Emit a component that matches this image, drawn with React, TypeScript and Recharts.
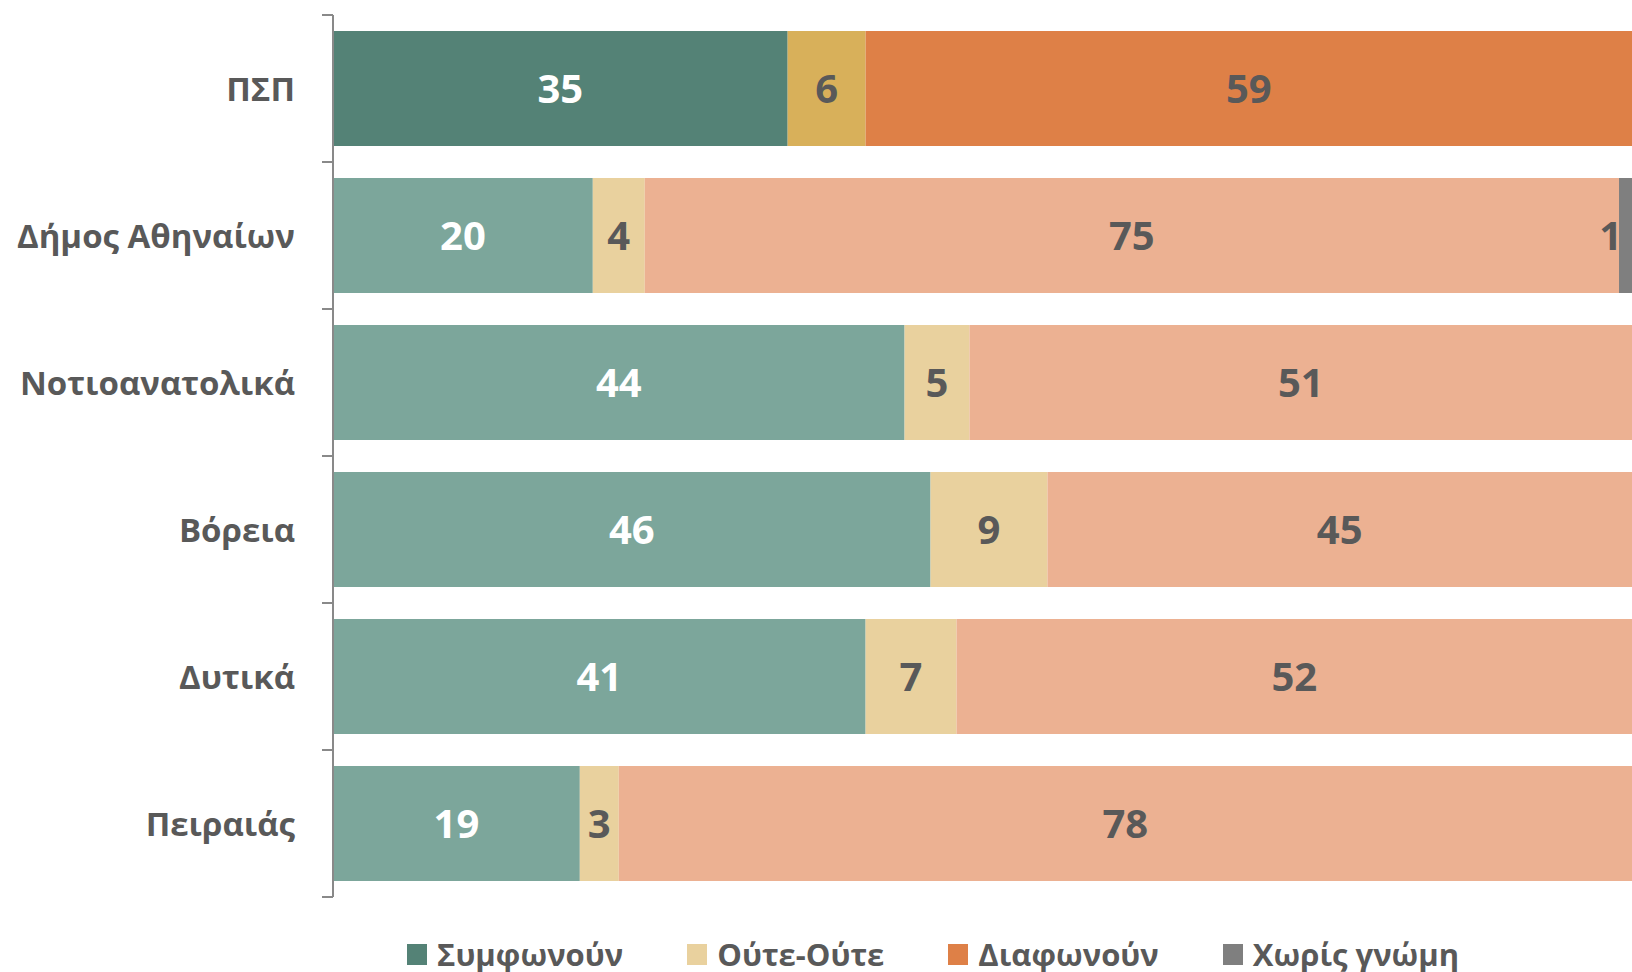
import React from 'react';
import { Bar, BarChart, Cell, LabelList, XAxis, YAxis } from 'recharts';

const categories = ['ΠΣΠ', 'Δήμος Αθηναίων', 'Νοτιοανατολικά', 'Βόρεια', 'Δυτικά', 'Πειραιάς'];
const agree = [35, 20, 44, 46, 41, 19];
const neither = [6, 4, 5, 9, 7, 3];
const disagree = [59, 75, 51, 45, 52, 78];
const noOpinion = [0, 1, 0, 0, 0, 0];

const legendLabels = ['Συμφωνούν', 'Ούτε-Ούτε', 'Διαφωνούν', 'Χωρίς γνώμη'];
const legendColors = ['#548276', '#E9D19E', '#DE8047', '#7F7F7F'];

// first row (ΠΣΠ) uses the stronger shades
const darkColors = { agree: '#548276', neither: '#D8B05A', disagree: '#DE8047', none: '#7F7F7F' };
const lightColors = { agree: '#7CA69B', neither: '#E9D19E', disagree: '#ECB192', none: '#7F7F7F' };

const data = categories.map((name, i) => ({
  name,
  agree: agree[i],
  neither: neither[i],
  disagree: disagree[i],
  none: noOpinion[i],
}));

const FONT = '"Open Sans", sans-serif';
const TEXT = '#595959';
const WIDTH = 1632;
const HEIGHT = 972;
const TOP = 15;
const BOTTOM = 75;
const AXIS_X = 333;
const BAND = (HEIGHT - TOP - BOTTOM) / categories.length;

const CategoryTick = (props: any) => {
  const { y, payload, index } = props;
  return (
    <g>
      <line x1={AXIS_X - 11} x2={AXIS_X} y1={y - BAND / 2} y2={y - BAND / 2} stroke="#898989" strokeWidth={2} />
      {index === categories.length - 1 && (
        <line x1={AXIS_X - 11} x2={AXIS_X} y1={y + BAND / 2} y2={y + BAND / 2} stroke="#898989" strokeWidth={2} />
      )}
      <text
        x={295}
        y={y}
        textAnchor="end"
        dominantBaseline="central"
        fill={TEXT}
        fontFamily={FONT}
        fontWeight={700}
        fontSize={33}
      >
        {payload.value}
      </text>
    </g>
  );
};

const hideZero = (v: any) => (v ? v : '');

const labelStyle = { fontFamily: FONT, fontWeight: 700, fontSize: 40 };

export default function App() {
  const keys: Array<'agree' | 'neither' | 'disagree' | 'none'> = ['agree', 'neither', 'disagree', 'none'];
  return (
    <div style={{ position: 'absolute', left: 0, top: 0, width: WIDTH, height: HEIGHT, background: '#fff' }}>
      <BarChart
        width={WIDTH}
        height={HEIGHT}
        data={data}
        layout="vertical"
        margin={{ top: TOP, right: 0, bottom: BOTTOM, left: 0 }}
        barCategoryGap={16}
      >
        <XAxis type="number" domain={[0, 100]} hide />
        <YAxis
          type="category"
          dataKey="name"
          width={AXIS_X}
          axisLine={{ stroke: '#898989', strokeWidth: 2 }}
          tickLine={false}
          tick={<CategoryTick />}
          interval={0}
        />
        {keys.map((k) => (
          <Bar key={k} dataKey={k} stackId="a" isAnimationActive={false}>
            {data.map((_, i) => (
              <Cell key={i} fill={i === 0 ? darkColors[k] : lightColors[k]} />
            ))}
            <LabelList
              dataKey={k}
              position={k === 'none' ? 'insideRight' : 'center'}
              offset={k === 'none' ? 10 : 5}
              formatter={hideZero}
              fill={k === 'agree' ? '#FFFFFF' : TEXT}
              style={labelStyle}
            />
          </Bar>
        ))}
      </BarChart>
      <div
        style={{
          position: 'absolute',
          left: 407,
          top: 934,
          display: 'flex',
          gap: 64,
          fontFamily: FONT,
          fontWeight: 700,
          fontSize: 31,
          color: TEXT,
          whiteSpace: 'nowrap',
          lineHeight: '40px',
        }}
      >
        {legendLabels.map((l, i) => (
          <div key={l} style={{ display: 'flex', alignItems: 'center' }}>
            <span style={{ width: 20, height: 21, background: legendColors[i], marginRight: 10, display: 'inline-block' }} />
            <span>{l}</span>
          </div>
        ))}
      </div>
    </div>
  );
}
